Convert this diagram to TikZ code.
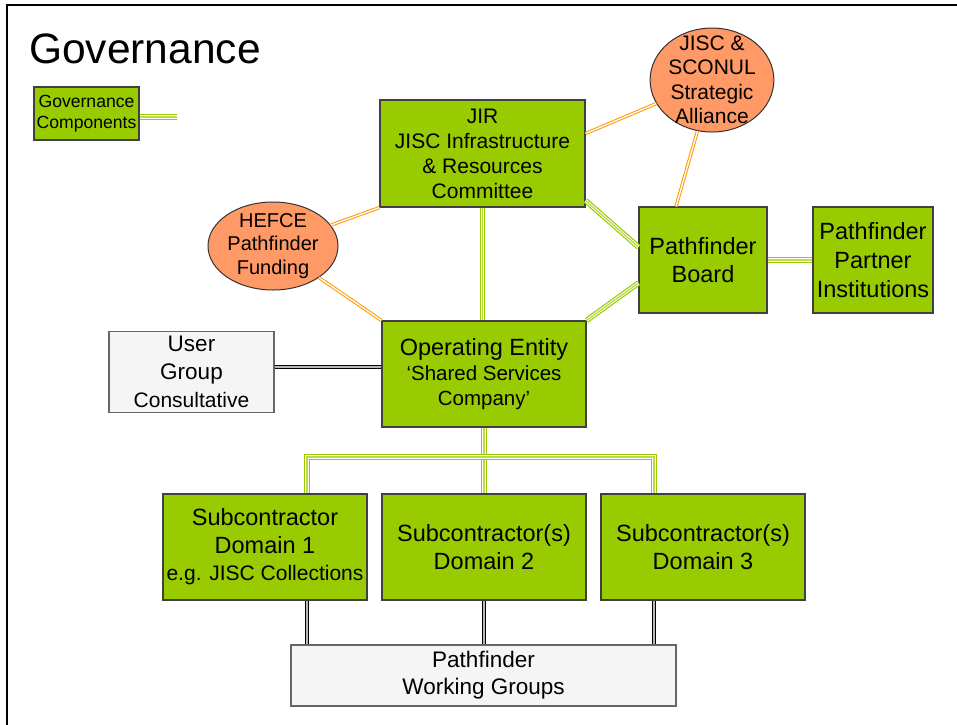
\documentclass[tikz,border=0pt]{standalone}
\usepackage{fontspec}
\setmainfont{Liberation Sans}
\usetikzlibrary{shapes,calc}
\definecolor{boxgreen}{HTML}{99CC00}
\definecolor{palegreen}{HTML}{B8DC4D}
\definecolor{ellorange}{HTML}{FF9966}
\definecolor{lineorange}{HTML}{FF9900}
\definecolor{boxgrey}{HTML}{F5F5F5}
\newcommand{\fs}[2]{\fontsize{#1}{#2}\selectfont}
\tikzstyle{gbox} = [draw=black!75, line width=1.2pt, fill=boxgreen, rectangle, align=center, inner sep=0pt]
\tikzstyle{wbox} = [draw=black!60, line width=1.2pt, fill=boxgrey, rectangle, align=center, inner sep=0pt]
\tikzstyle{oval} = [draw=black!80, line width=1pt, fill=ellorange, ellipse, align=center, inner xsep=0pt]
\tikzstyle{gline} = [preaction={draw=boxgreen, line width=5.5pt}, preaction={draw=white, line width=3.1pt}, draw=palegreen, line width=1.3pt]
\tikzstyle{oline} = [draw=lineorange, line width=1pt, double=white, double distance=1.3pt]
\tikzstyle{kline} = [draw=black, line width=1.2pt, double=gray!55, double distance=1.6pt]

\begin{document}
\begin{tikzpicture}[x=1pt, y=-1pt]
        \useasboundingbox (0,0) rectangle (957,724);
        \fill[white] (0,0) rectangle (957,724);
        \draw[line width=2pt] (7,730) -- (7,5) -- (960,5);
        \node[anchor=west, inner sep=0pt, font=\fs{42.5}{48}] (title) at (29,49) {Governance};
        \node[gbox, minimum width=105pt, minimum height=53pt, font=\fs{17.6}{21}] (legend) at (86.5,113.5) {Governance\\Components};
        \coordinate (legendend) at (177,117);
        % upper part
        \node[gbox, minimum width=205pt, minimum height=107pt, font=\fs{21}{25}] (jir) at (482.5,153.5) {JIR\\JISC Infrastructure\\\& Resources\\Committee};
        \node[oval, inner ysep=-14pt, minimum width=120pt, minimum height=104pt, font=\fs{21}{24.5}] (alliance) at (712,80) {JISC \&\\SCONUL\\Strategic\\Alliance};
        \node[oval, inner ysep=-6pt, minimum width=130pt, minimum height=88pt, font=\fs{20}{23.5}] (hefce) at (273,246) {HEFCE\\Pathfinder\\Funding};
        \node[gbox, minimum width=128pt, minimum height=106pt, font=\fs{23.5}{28}] (board) at (703,260) {Pathfinder\\Board};
        \node[gbox, minimum width=120pt, minimum height=106pt, font=\fs{23.5}{29}] (partners) at (873,260) {Pathfinder\\Partner\\Institutions};
        \node[wbox, minimum width=165pt, minimum height=81pt, font=\fs{22.5}{28}] (users) at (191.5,372) {User\\Group\\\fs{21}{26}Consultative};
        \node[gbox, minimum width=204pt, minimum height=106pt, font=\fs{20.5}{25}] (entity) at (484,374) {\fs{23.5}{27}Operating Entity\\‘Shared Services\\Company’};
        % lower part
        \node[gbox, minimum width=204pt, minimum height=106pt, font=\fs{23.5}{27.5}] (dom1) at (265,547) {Subcontractor\\Domain 1\\\fs{21}{27}e.g. JISC Collections};
        \node[gbox, minimum width=204pt, minimum height=106pt, font=\fs{23.5}{28}] (dom2) at (484,547) {Subcontractor(s)\\Domain 2};
        \node[gbox, minimum width=204pt, minimum height=106pt, font=\fs{23.5}{28}] (dom3) at (703,547) {Subcontractor(s)\\Domain 3};
        \node[wbox, minimum width=385pt, minimum height=61pt, font=\fs{22.5}{27}] (groups) at (483.5,675.5) {Pathfinder\\Working Groups};
        \coordinate (busl) at (307,457);
        \coordinate (busr) at (654,457);
        % connectors
        \path[gline] (legend.east |- legendend) -- (legendend);
        \path[oline] ([yshift=20pt]jir.east) -- (alliance);
        \path[oline] (alliance) -- ([xshift=-27pt]board.north);
        \path[oline] (hefce) -- (jir.south west);
        \path[oline] (hefce) -- (entity.north west);
        \path[gline] (jir.south) -- (jir.south |- entity.north);
        \path[gline] ([yshift=7pt]jir.south east) -- ([yshift=13pt]board.west);
        \path[gline] (entity.north east) -- ([yshift=-23pt]board.west);
        \path[gline] (board.east) -- (partners.west);
        \path[kline] ([yshift=5pt]users.east) -- ([yshift=5pt]users.east -| entity.west);
        \path[gline] (entity.south) -- (dom2.north);
        \path[gline] (dom1.north -| busl) |- (busr) -- (dom3.north -| busr);
        \path[kline] (dom1.south -| busl) -- (groups.north -| busl);
        \path[kline] (dom2.south) -- (dom2.south |- groups.north);
        \path[kline] (dom3.south -| busr) -- (groups.north -| busr);
    \end{tikzpicture}
\end{document}
